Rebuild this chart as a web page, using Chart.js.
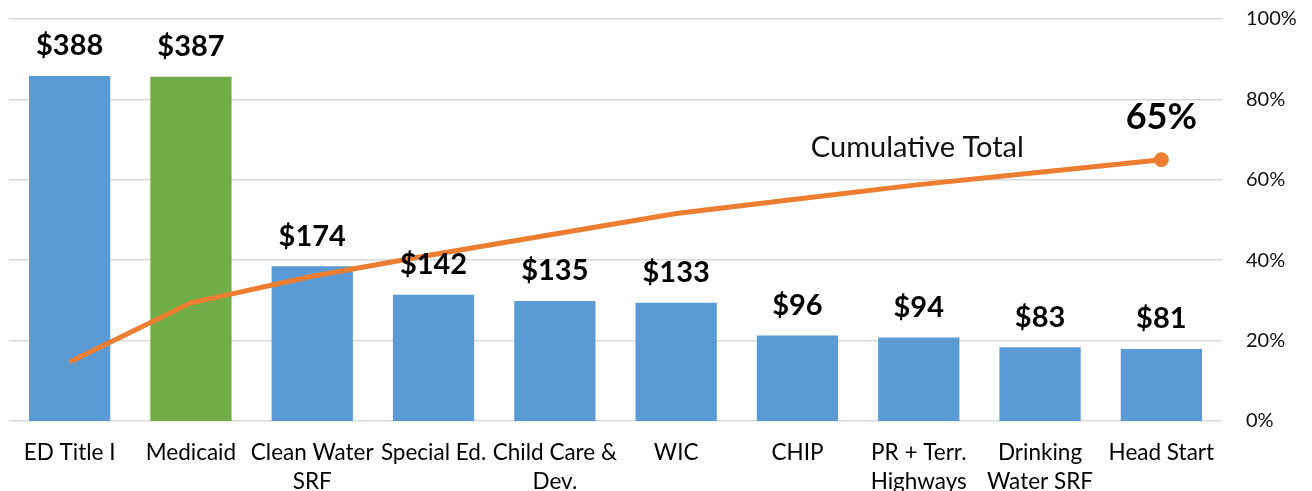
<!DOCTYPE html>
<html>
<head>
<meta charset="utf-8">
<script src="https://cdn.jsdelivr.net/npm/chart.js@4/dist/chart.umd.min.js"></script>
<style>
  html, body { margin: 0; padding: 0; background: #fff; }
  #wrap { width: 1312px; height: 491px; position: relative; }
</style>
</head>
<body>
<div id="wrap"><canvas id="pareto" width="1312" height="491"></canvas></div>
<script>
  const categories = [
    ['ED Title I'], ['Medicaid'], ['Clean Water', 'SRF'], ['Special Ed.'],
    ['Child Care &', 'Dev.'], ['WIC'], ['CHIP'], ['PR + Terr.', 'Highways'],
    ['Drinking', 'Water SRF'], ['Head Start']
  ];
  const spending = [388, 387, 174, 142, 135, 133, 96, 94, 83, 81];
  const cumulativePct = [14.7, 29.4, 36.0, 41.4, 46.5, 51.6, 55.2, 58.8, 61.9, 65.0];
  const pctTicks = [0, 20, 40, 60, 80, 100];

  const BLUE = '#5B9BD5';
  const GREEN = '#70AD47';
  const ORANGE = '#ED7D31';
  const FONT = 'Lato, "Open Sans", sans-serif';
  const barColors = categories.map((c, i) => (i === 1 ? GREEN : BLUE));

  // value labels over bars + callouts on the cumulative line
  const labelPlugin = {
    id: 'paretoLabels',
    afterDatasetsDraw(chart) {
      const ctx = chart.ctx;
      const bars = chart.getDatasetMeta(1).data;
      ctx.save();
      ctx.fillStyle = '#000';
      ctx.textAlign = 'center';
      ctx.textBaseline = 'middle';
      ctx.font = `bold 29px ${FONT}`;
      bars.forEach((el, i) => {
        ctx.fillText('$' + spending[i], el.x, el.y - 30);
      });

      const pts = chart.getDatasetMeta(0).data;
      const last = pts[pts.length - 1];
      ctx.font = `bold 36px ${FONT}`;
      ctx.fillText(Math.round(cumulativePct[cumulativePct.length - 1]) + '%', last.x, last.y - 42);
      ctx.font = `29px ${FONT}`;
      ctx.fillStyle = '#111';
      ctx.fillText('Cumulative Total', last.x - 244, last.y - 12);
      ctx.restore();
    }
  };

  new Chart(document.getElementById('pareto'), {
    data: {
      labels: categories,
      datasets: [
        {
          type: 'line',
          label: 'Cumulative Total',
          data: cumulativePct,
          yAxisID: 'y1',
          borderColor: ORANGE,
          backgroundColor: ORANGE,
          borderWidth: 5,
          tension: 0,
          pointRadius: cumulativePct.map((v, i) => (i === cumulativePct.length - 1 ? 7 : 0)),
          pointBorderWidth: 1,
          order: 0
        },
        {
          type: 'bar',
          label: 'Spending',
          data: spending,
          yAxisID: 'y',
          backgroundColor: barColors,
          borderWidth: 0,
          categoryPercentage: 1,
          barPercentage: 0.67,
          order: 1
        }
      ]
    },
    options: {
      responsive: false,
      animation: false,
      layout: { padding: { left: 9, top: 19, right: 0, bottom: 0 } },
      plugins: {
        legend: { display: false },
        tooltip: { enabled: false }
      },
      scales: {
        x: {
          grid: { display: false },
          border: { display: false },
          ticks: {
            color: '#000',
            font: { family: FONT, size: 22.5, lineHeight: 1.3 },
            padding: 9,
            maxRotation: 0,
            autoSkip: false
          },
          afterFit(scale) { scale.height = 70; }
        },
        y: {
          display: false,
          min: 0,
          max: 452
        },
        y1: {
          position: 'right',
          min: pctTicks[0],
          max: pctTicks[pctTicks.length - 1],
          afterBuildTicks(scale) { scale.ticks = pctTicks.map(v => ({ value: v })); },
          grid: { color: '#d9d9d9', lineWidth: 1.5, drawTicks: false },
          border: { display: false },
          ticks: {
            color: '#111',
            font: { family: FONT, size: 20 },
            padding: 24,
            callback: v => v + '%'
          },
          afterFit(scale) {
            scale.width = 90;
            scale.paddingTop = 0;
            scale.paddingBottom = 0;
          }
        }
      }
    },
    plugins: [labelPlugin]
  });
</script>
</body>
</html>
